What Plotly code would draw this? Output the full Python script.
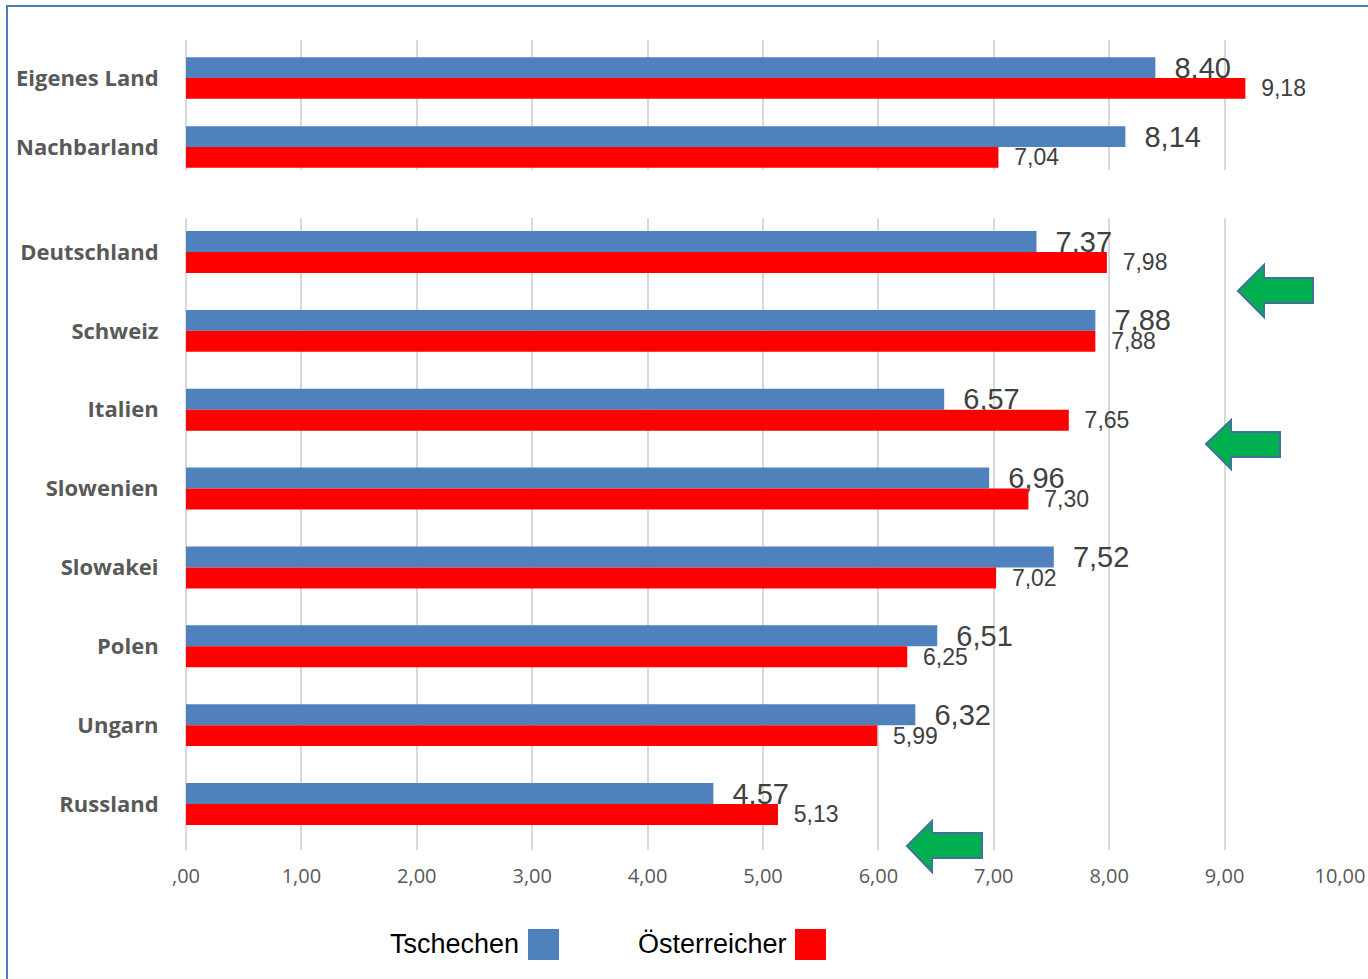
import plotly.graph_objects as go

# ---- data ----
top_categories = ["Eigenes Land", "Nachbarland"]
top_tschechen = [8.40, 8.14]
top_oesterreicher = [9.18, 7.04]

countries = ["Deutschland", "Schweiz", "Italien", "Slowenien", "Slowakei",
             "Polen", "Ungarn", "Russland"]
tschechen = [7.37, 7.88, 6.57, 6.96, 7.52, 6.51, 6.32, 4.57]
oesterreicher = [7.98, 7.88, 7.65, 7.30, 7.02, 6.25, 5.99, 5.13]

tick_vals = [0, 1, 2, 3, 4, 5, 6, 7, 8, 9, 10]
tick_text = [",00", "1,00", "2,00", "3,00", "4,00", "5,00", "6,00", "7,00",
             "8,00", "9,00", "10,00"]

series_names = ["Tschechen", "Österreicher"]
BLUE = "#4F81BD"
RED = "#FF0000"

W, H = 1368, 979
L, R, T, B = 186, 28, 40, 129
PW = W - L - R
PH = H - T - B


def xp(px):
    return (px - L) / PW


def yp(py):
    return (H - B - py) / PH


fig = go.Figure()

NB = "\u00a0\u00a0"
label_font = dict(family="Liberation Sans, Arial, sans-serif", color="#404040")
BLUE_LABEL = 29
RED_LABEL = 23

# top panel bars
w_top = 0.30
fig.add_trace(go.Bar(
    y=top_categories, x=top_tschechen, orientation="h", name=series_names[0],
    marker=dict(color=BLUE, line=dict(width=0)), width=w_top, offset=-w_top,
    text=top_tschechen, texttemplate=NB + "%{x:.2f}", textposition="outside",
    textfont=dict(size=BLUE_LABEL, **label_font), constraintext="none", cliponaxis=False,
    xaxis="x", yaxis="y", showlegend=False))
fig.add_trace(go.Bar(
    y=top_categories, x=top_oesterreicher, orientation="h", name=series_names[1],
    marker=dict(color=RED, line=dict(width=0)), width=w_top, offset=0,
    text=top_oesterreicher, texttemplate=NB + "%{x:.2f}", textposition="outside",
    textfont=dict(size=RED_LABEL, **label_font), constraintext="none", cliponaxis=False,
    xaxis="x", yaxis="y", showlegend=False))

# bottom panel bars
w_bot = 0.266
fig.add_trace(go.Bar(
    y=countries, x=tschechen, orientation="h", name=series_names[0],
    marker=dict(color=BLUE, line=dict(width=0)), width=w_bot, offset=-w_bot,
    text=tschechen, texttemplate=NB + "%{x:.2f}", textposition="outside",
    textfont=dict(size=BLUE_LABEL, **label_font), constraintext="none", cliponaxis=False,
    xaxis="x2", yaxis="y2", showlegend=False))
fig.add_trace(go.Bar(
    y=countries, x=oesterreicher, orientation="h", name=series_names[1],
    marker=dict(color=RED, line=dict(width=0)), width=w_bot, offset=0,
    text=oesterreicher, texttemplate=NB + "%{x:.2f}", textposition="outside",
    textfont=dict(size=RED_LABEL, **label_font), constraintext="none", cliponaxis=False,
    xaxis="x2", yaxis="y2", showlegend=False))

grid = "#D9D9D9"
cat_font = dict(family="Open Sans, sans-serif", size=22, color="#595959", weight="bold")
tick_font = dict(family="Open Sans, sans-serif", size=20, color="#595959")

# top y range: centers at px 78 and 147 within domain 40..170
top_unit = 147 - 78
top_range = [1 + (170 - 147) / top_unit, -(78 - 40) / top_unit]
bot_unit = (804 - 252) / 7
bot_range = [7 + (850 - 804) / bot_unit, -(252 - 218) / bot_unit]

fig.update_layout(
    template="none",
    width=W, height=H,
    margin=dict(l=L, r=R, t=T, b=B, autoexpand=False),
    paper_bgcolor="white", plot_bgcolor="white",
    separators=",.",
    barmode="overlay",
    showlegend=False,
    xaxis=dict(domain=[0, 1], anchor="y", range=[0, 10], tickvals=tick_vals,
               showticklabels=False, showgrid=True, gridcolor=grid, gridwidth=2,
               zeroline=True, zerolinecolor=grid, zerolinewidth=2, showline=False,
               ticks="", automargin=False),
    yaxis=dict(domain=[yp(170), yp(40)], anchor="x", type="category",
               categoryarray=top_categories, range=top_range,
               tickfont=cat_font, ticks="outside", ticklen=22,
               tickcolor="rgba(0,0,0,0)", showgrid=False, zeroline=False,
               showline=False, automargin=False),
    xaxis2=dict(domain=[0, 1], anchor="y2", range=[0, 10], tickvals=tick_vals,
                ticktext=tick_text, tickfont=tick_font, ticks="outside", ticklen=8,
                tickcolor="rgba(0,0,0,0)", showgrid=True, gridcolor=grid,
                gridwidth=2, zeroline=True, zerolinecolor=grid, zerolinewidth=2,
                showline=False, automargin=False),
    yaxis2=dict(domain=[0, yp(218)], anchor="x2", type="category",
                categoryarray=countries, range=bot_range,
                tickfont=cat_font, ticks="outside", ticklen=22,
                tickcolor="rgba(0,0,0,0)", showgrid=False, zeroline=False,
                showline=False, automargin=False),
)

shapes = []
# outer border
shapes.append(dict(type="rect", xref="paper", yref="paper",
                   x0=xp(7), x1=xp(1390), y0=yp(6), y1=yp(1000),
                   line=dict(color="#4A7EBB", width=2), fillcolor="rgba(0,0,0,0)",
                   layer="below"))

# green arrows (decoration)
arrows = [
    [(1238, 291), (1264, 265), (1264, 278), (1313, 278), (1313, 303), (1264, 303), (1264, 317)],
    [(1206, 444), (1231, 420), (1231, 432), (1280, 432), (1280, 457), (1231, 457), (1231, 469)],
    [(907, 846), (932, 821), (932, 833), (982, 833), (982, 858), (932, 858), (932, 872)],
]
for pts in arrows:
    path = "M " + " L ".join(f"{xp(a):.5f},{yp(b):.5f}" for a, b in pts) + " Z"
    shapes.append(dict(type="path", xref="paper", yref="paper", path=path,
                       fillcolor="#00B050", line=dict(color="#41719C", width=2)))

# legend squares
legend_colors = [BLUE, RED]
legend_sq = [(528, 559), (795, 826)]
for (a, b), c in zip(legend_sq, legend_colors):
    shapes.append(dict(type="rect", xref="paper", yref="paper",
                       x0=xp(a), x1=xp(b), y0=yp(960), y1=yp(929),
                       fillcolor=c, line=dict(width=0)))
fig.update_layout(shapes=shapes)

legend_text_right = [521, 789]
for name, xr in zip(series_names, legend_text_right):
    fig.add_annotation(xref="paper", yref="paper", x=xp(xr), y=yp(944),
                       xanchor="right", yanchor="middle", showarrow=False,
                       text=name,
                       font=dict(family="Liberation Sans, Arial, sans-serif",
                                 size=27, color="#000000"))

fig.write_html(
    "out.html",
    config={"displayModeBar": False},
    post_script="document.body.style.margin='0';document.body.style.overflow='hidden';",
)
